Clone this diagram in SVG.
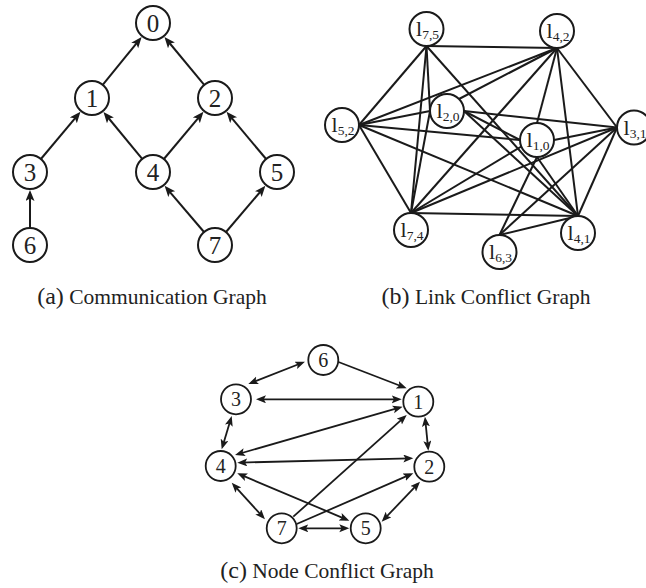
<svg xmlns="http://www.w3.org/2000/svg" width="646" height="588" viewBox="0 0 646 588">
  <style>
    .bg { fill: #ffffff; }
    .node circle { fill: #ffffff; stroke: #1a1a1a; stroke-width: 2; }
    .small circle { stroke-width: 1.8; }
    .lbl { font-family: "Liberation Serif", "Times New Roman", serif; fill: #222222; text-anchor: middle; }
    .big { font-size: 25px; }
    .mid { font-size: 20px; }
    .link { font-size: 22px; }
    .sub { font-size: 13.5px; }
    .edges line { stroke: #1a1a1a; stroke-width: 2; fill: none; }
    .edges-c line { stroke: #1a1a1a; stroke-width: 1.8; fill: none; }
    .cap { font-family: "Liberation Serif", "Times New Roman", serif; font-size: 21.5px; fill: #222222; text-anchor: middle; }
    .cap .tag { font-size: 24px; }
  </style>
  <defs>
    <marker id="arrA" markerUnits="userSpaceOnUse" markerWidth="12" markerHeight="10" refX="7" refY="4.5" orient="auto">
      <path d="M0,0 L11,4.5 L0,9 L2.5,4.5 Z" fill="#1a1a1a"/>
    </marker>
    <marker id="arrC" markerUnits="userSpaceOnUse" markerWidth="11" markerHeight="9" refX="6.5" refY="4" orient="auto-start-reverse">
      <path d="M0,0 L10,4 L0,8 L2.2,4 Z" fill="#1a1a1a"/>
    </marker>
  </defs>
  <rect class="bg" x="0" y="0" width="646" height="588"/>

  <!-- (a) communication graph -->
  <g id="edges-a" class="edges">
    <line x1="102.7" y1="84.8" x2="139.1" y2="40.1" marker-end="url(#arrA)"/>
    <line x1="204.2" y1="84.9" x2="167.0" y2="40.0" marker-end="url(#arrA)"/>
    <line x1="40.9" y1="159.0" x2="77.9" y2="114.9" marker-end="url(#arrA)"/>
    <line x1="142.2" y1="158.9" x2="106.0" y2="115.0" marker-end="url(#arrA)"/>
    <line x1="163.9" y1="159.0" x2="200.9" y2="114.9" marker-end="url(#arrA)"/>
    <line x1="266.1" y1="159.0" x2="229.1" y2="114.9" marker-end="url(#arrA)"/>
    <line x1="30" y1="228" x2="30" y2="194" marker-end="url(#arrA)"/>
    <line x1="204" y1="232" x2="167.2" y2="188.8" marker-end="url(#arrA)"/>
    <line x1="226" y1="232" x2="262.8" y2="188.8" marker-end="url(#arrA)"/>
  </g>
  <g id="a0" class="node"><circle cx="153" cy="23" r="17"/><text class="lbl big" x="153" y="31.5">0</text></g>
  <g id="a1" class="node"><circle cx="92" cy="98" r="17"/><text class="lbl big" x="92" y="106.5">1</text></g>
  <g id="a2" class="node"><circle cx="215" cy="98" r="17"/><text class="lbl big" x="215" y="106.5">2</text></g>
  <g id="a3" class="node"><circle cx="30" cy="172" r="17"/><text class="lbl big" x="30" y="180.5">3</text></g>
  <g id="a4" class="node"><circle cx="153" cy="172" r="17"/><text class="lbl big" x="153" y="180.5">4</text></g>
  <g id="a5" class="node"><circle cx="277" cy="172" r="17"/><text class="lbl big" x="277" y="180.5">5</text></g>
  <g id="a6" class="node"><circle cx="30" cy="245" r="17"/><text class="lbl big" x="30" y="253.5">6</text></g>
  <g id="a7" class="node"><circle cx="215" cy="245" r="17"/><text class="lbl big" x="215" y="253.5">7</text></g>
  <text class="cap" x="152" y="304"><tspan class="tag">(a)</tspan> Communication Graph</text>

  <!-- (b) link conflict graph -->
  <g id="edges-b" class="edges">
    <line x1="464" y1="111" x2="520" y2="140"/>
    <line x1="554" y1="140" x2="617" y2="127.5"/>
    <line x1="537" y1="157" x2="578" y2="216"/>
    <line x1="557" y1="48" x2="537" y2="123"/>
    <line x1="359" y1="125" x2="520" y2="140"/>
    <line x1="537" y1="157" x2="499.5" y2="235"/>
    <line x1="411" y1="213" x2="521.3" y2="146.5"/>
    <line x1="464" y1="111" x2="617" y2="127.5"/>
    <line x1="464" y1="111" x2="578" y2="216"/>
    <line x1="459" y1="99" x2="557" y2="48"/>
    <line x1="359" y1="125" x2="430" y2="111"/>
    <line x1="430" y1="111" x2="411" y2="213"/>
    <line x1="426.5" y1="46" x2="430" y2="111"/>
    <line x1="617" y1="127.5" x2="578" y2="216"/>
    <line x1="557" y1="48" x2="617" y2="127.5"/>
    <line x1="617" y1="127.5" x2="499.5" y2="235"/>
    <line x1="617" y1="127.5" x2="411" y2="213"/>
    <line x1="557" y1="48" x2="578" y2="216"/>
    <line x1="359" y1="125" x2="578" y2="216"/>
    <line x1="499.5" y1="235" x2="578" y2="216"/>
    <line x1="411" y1="213" x2="578" y2="216"/>
    <line x1="426.5" y1="46" x2="578" y2="216"/>
    <line x1="359" y1="125" x2="557" y2="48"/>
    <line x1="411" y1="213" x2="557" y2="48"/>
    <line x1="426.5" y1="46" x2="557" y2="48"/>
    <line x1="359" y1="125" x2="411" y2="213"/>
    <line x1="359" y1="125" x2="426.5" y2="46"/>
    <line x1="426.5" y1="46" x2="411" y2="213"/>
  </g>
  <g id="l75" class="node"><circle cx="426.5" cy="29" r="17"/><text class="lbl link" x="427.5" y="36">l<tspan class="sub" dy="3">7,5</tspan></text></g>
  <g id="l42" class="node"><circle cx="557" cy="31" r="17"/><text class="lbl link" x="558" y="38">l<tspan class="sub" dy="3">4,2</tspan></text></g>
  <g id="l52" class="node"><circle cx="342" cy="125" r="17"/><text class="lbl link" x="343" y="132">l<tspan class="sub" dy="3">5,2</tspan></text></g>
  <g id="l20" class="node"><circle cx="447" cy="111" r="17"/><text class="lbl link" x="448" y="118">l<tspan class="sub" dy="3">2,0</tspan></text></g>
  <g id="l10" class="node"><circle cx="537" cy="140" r="17"/><text class="lbl link" x="538" y="147">l<tspan class="sub" dy="3">1,0</tspan></text></g>
  <g id="l31" class="node"><circle cx="634" cy="127.5" r="17"/><text class="lbl link" x="635" y="134.5">l<tspan class="sub" dy="3">3,1</tspan></text></g>
  <g id="l74" class="node"><circle cx="411" cy="230" r="17"/><text class="lbl link" x="412" y="237">l<tspan class="sub" dy="3">7,4</tspan></text></g>
  <g id="l41" class="node"><circle cx="578" cy="233" r="17"/><text class="lbl link" x="579" y="240">l<tspan class="sub" dy="3">4,1</tspan></text></g>
  <g id="l63" class="node"><circle cx="499.5" cy="252" r="17"/><text class="lbl link" x="500.5" y="259">l<tspan class="sub" dy="3">6,3</tspan></text></g>
  <text class="cap" x="486" y="304"><tspan class="tag">(b)</tspan> Link Conflict Graph</text>

  <!-- (c) node conflict graph -->
  <g id="edges-c" class="edges-c">
    <line x1="251.6" y1="382.7" x2="301.7" y2="363.0" marker-start="url(#arrC)" marker-end="url(#arrC)"/>
    <line x1="338.5" y1="362" x2="403.4" y2="387.0" marker-end="url(#arrC)"/>
    <line x1="259.5" y1="399.3" x2="398.2" y2="399.3" marker-start="url(#arrC)" marker-end="url(#arrC)"/>
    <line x1="230.7" y1="419.3" x2="222.7" y2="446.0" marker-start="url(#arrC)" marker-end="url(#arrC)"/>
    <line x1="238.4" y1="454.0" x2="399.3" y2="407.7" marker-start="url(#arrC)" marker-end="url(#arrC)"/>
    <line x1="240.8" y1="462.6" x2="409.8" y2="458.4" marker-start="url(#arrC)" marker-end="url(#arrC)"/>
    <line x1="240.5" y1="474.7" x2="346.1" y2="519.3" marker-start="url(#arrC)" marker-end="url(#arrC)"/>
    <line x1="234.1" y1="485.3" x2="262.6" y2="516.7" marker-start="url(#arrC)" marker-end="url(#arrC)"/>
    <line x1="293.3" y1="516.7" x2="404.1" y2="417.3" marker-end="url(#arrC)"/>
    <line x1="296.7" y1="524" x2="410.1" y2="474.7" marker-end="url(#arrC)"/>
    <line x1="301.8" y1="528.3" x2="345.8" y2="528.3" marker-start="url(#arrC)" marker-end="url(#arrC)"/>
    <line x1="384.1" y1="519.2" x2="417.6" y2="484.2" marker-start="url(#arrC)" marker-end="url(#arrC)"/>
    <line x1="425.3" y1="420.2" x2="428.0" y2="447.2" marker-start="url(#arrC)" marker-end="url(#arrC)"/>
  </g>
  <g id="c6" class="node small"><circle cx="323.3" cy="360" r="15"/><text class="lbl mid" x="323.3" y="367">6</text></g>
  <g id="c3" class="node small"><circle cx="236" cy="399.3" r="15"/><text class="lbl mid" x="236" y="406.3">3</text></g>
  <g id="c1" class="node small"><circle cx="418.3" cy="401.7" r="15"/><text class="lbl mid" x="418.3" y="408.7">1</text></g>
  <g id="c4" class="node small"><circle cx="220.7" cy="466" r="15"/><text class="lbl mid" x="220.7" y="473">4</text></g>
  <g id="c2" class="node small"><circle cx="429.3" cy="466.7" r="15"/><text class="lbl mid" x="429.3" y="473.7">2</text></g>
  <g id="c7" class="node small"><circle cx="281.7" cy="528.3" r="15"/><text class="lbl mid" x="281.7" y="535.3">7</text></g>
  <g id="c5" class="node small"><circle cx="365.7" cy="528.3" r="15"/><text class="lbl mid" x="365.7" y="535.3">5</text></g>
  <text class="cap" x="327" y="578"><tspan class="tag">(c)</tspan> Node Conflict Graph</text>
</svg>
